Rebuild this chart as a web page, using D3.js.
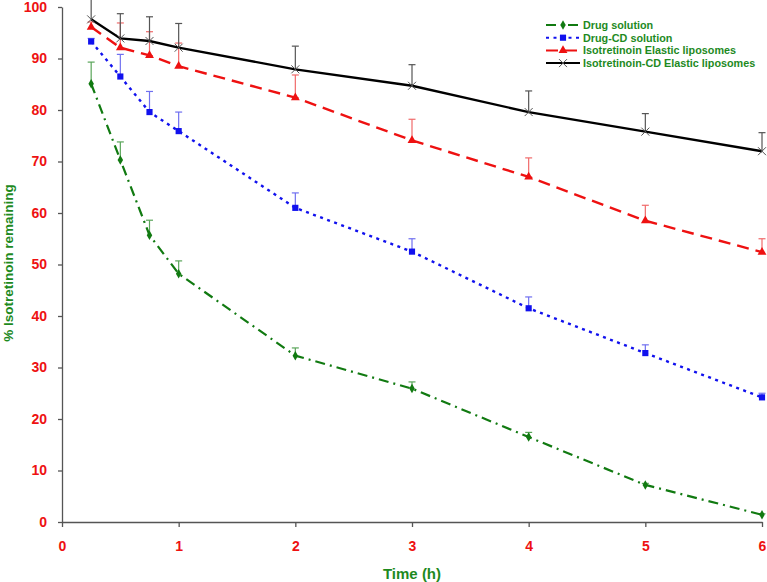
<!DOCTYPE html>
<html>
<head>
<meta charset="utf-8">
<script src="https://cdn.jsdelivr.net/npm/d3@7"></script>
<style>
  body { margin: 0; background: #fff; }
  text { font-family: "Liberation Sans", Arial, sans-serif; font-weight: bold; }
</style>
</head>
<body>
<div id="chart"></div>
<script>
// data
var times = [0.25, 0.5, 0.75, 1, 2, 3, 4, 5, 6];

var drugSolution    = [85.1, 70.3, 55.7, 48.2, 32.3, 25.9, 16.5, 7.2, 1.4];
var drugSolutionErr = [4.2, 3.5, 2.9, 2.5, 1.5, 1.3, 0.9, 0.3, 0.2];

var drugCD    = [93.3, 86.5, 79.6, 75.9, 61.0, 52.5, 41.5, 32.8, 24.2];
var drugCDErr = [0.6, 4.3, 4.0, 3.7, 2.9, 2.5, 2.2, 1.6, 0.8];

var elastic    = [96.1, 92.1, 90.6, 88.5, 82.4, 74.1, 67.0, 58.5, 52.4];
var elasticErr = [1.0, 4.8, 4.6, 4.5, 4.4, 4.1, 3.7, 3.0, 2.6];

var cdElastic    = [97.6, 93.9, 93.4, 92.1, 87.9, 84.7, 79.6, 75.8, 72.0];
var cdElasticErr = [4.0, 4.8, 4.7, 4.7, 4.5, 4.1, 4.1, 3.5, 3.6];

var seriesNames = ["Drug solution", "Drug-CD solution", "Isotretinoin Elastic liposomes", "Isotretinoin-CD Elastic liposomes"];
var xTicks = [0, 1, 2, 3, 4, 5, 6];
var yTicks = [0, 10, 20, 30, 40, 50, 60, 70, 80, 90, 100];

var svgWidth = 767;
var svgHeight = 582;

var svg = d3.select("#chart")
  .append("svg")
  .attr("width", svgWidth)
  .attr("height", svgHeight);

var xScale = d3.scaleLinear().domain([0, 6]).range([62, 762]);
var yScale = d3.scaleLinear().domain([0, 100]).range([522, 7]);

// axes
var yAxis = svg.append("g")
  .attr("transform", "translate(62,0)")
  .call(d3.axisLeft(yScale).tickValues(yTicks).tickFormat(d3.format("d")).tickSize(4).tickSizeOuter(0).tickPadding(11));

var xAxis = svg.append("g")
  .attr("transform", "translate(0,522)")
  .call(d3.axisBottom(xScale).tickValues(xTicks).tickFormat(d3.format("d")).tickSize(5).tickSizeOuter(0).tickPadding(14));

svg.selectAll(".domain, .tick line").attr("stroke", "#555").attr("stroke-width", 1.3);
svg.selectAll(".tick text")
  .attr("fill", "#ee1111")
  .style("font-size", "14px")
  .style("font-family", "Liberation Sans, Arial, sans-serif")
  .style("font-weight", "bold");

// axis titles
svg.append("text")
  .attr("x", 412)
  .attr("y", 579)
  .attr("text-anchor", "middle")
  .attr("fill", "#1e8a1e")
  .style("font-size", "15px")
  .text("Time (h)");

svg.append("text")
  .attr("transform", "translate(13,263) rotate(-90)")
  .attr("text-anchor", "middle")
  .attr("fill", "#1e8a1e")
  .style("font-size", "13.5px")
  .text("% Isotretinoin remaining");

var series = [
  { name: seriesNames[0], values: drugSolution, err: drugSolutionErr, color: "#117a11", errColor: "#5aa55a", dash: "10,5,2,5", width: 2.2, marker: "diamond" },
  { name: seriesNames[1], values: drugCD, err: drugCDErr, color: "#1111ee", errColor: "#7070f0", dash: "3,4.5", width: 2.4, marker: "square" },
  { name: seriesNames[2], values: elastic, err: elasticErr, color: "#ee1111", errColor: "#f06a6a", dash: "12,7", width: 2.4, marker: "triangle" },
  { name: seriesNames[3], values: cdElastic, err: cdElasticErr, color: "#000000", errColor: "#555555", dash: null, width: 2.4, marker: "cross" }
];

var line = d3.line()
  .x(d => xScale(d.t))
  .y(d => yScale(d.v));

function markerPath(type) {
  if (type === "square") return d3.symbol().type(d3.symbolSquare).size(38)();
  if (type === "triangle") return d3.symbol().type(d3.symbolTriangle).size(34)();
  if (type === "diamond") return d3.symbol().type(d3.symbolDiamond).size(26)();
  return "M-4,-4L4,4M-4,4L4,-4";
}

series.forEach(function(s) {
  var pts = times.map((t, i) => ({ t: t, v: s.values[i], e: s.err[i] }));
  var g = svg.append("g");

  // upward error bars
  var eb = g.selectAll(".err")
    .data(pts)
    .enter()
    .append("g")
    .attr("stroke", s.errColor)
    .attr("stroke-width", 1.2);
  eb.append("line")
    .attr("x1", d => xScale(d.t)).attr("x2", d => xScale(d.t))
    .attr("y1", d => yScale(d.v)).attr("y2", d => yScale(d.v + d.e));
  eb.append("line")
    .attr("x1", d => xScale(d.t) - 3.5).attr("x2", d => xScale(d.t) + 3.5)
    .attr("y1", d => yScale(d.v + d.e)).attr("y2", d => yScale(d.v + d.e));

  g.append("path")
    .datum(pts)
    .attr("d", line)
    .attr("fill", "none")
    .attr("stroke", s.color)
    .attr("stroke-width", s.width)
    .attr("stroke-dasharray", s.dash);

  g.selectAll(".mk")
    .data(pts)
    .enter()
    .append("path")
    .attr("transform", d => `translate(${xScale(d.t)},${yScale(d.v)})`)
    .attr("d", markerPath(s.marker))
    .attr("fill", s.marker === "cross" ? "none" : s.color)
    .attr("stroke", s.marker === "cross" ? "#555" : "none")
    .attr("stroke-width", 1);
});

// legend
var legend = svg.append("g");
series.forEach(function(s, i) {
  var y = 25 + i * 12.7;
  legend.append("line")
    .attr("x1", 546).attr("x2", 580)
    .attr("y1", y).attr("y2", y)
    .attr("stroke", s.color)
    .attr("stroke-width", 2)
    .attr("stroke-dasharray", s.dash);
  legend.append("path")
    .attr("transform", `translate(563,${y})`)
    .attr("d", markerPath(s.marker))
    .attr("fill", s.marker === "cross" ? "none" : s.color)
    .attr("stroke", s.marker === "cross" ? "#555" : "none");
  legend.append("text")
    .attr("x", 583)
    .attr("y", y + 4)
    .attr("fill", "#1e8a1e")
    .style("font-size", "10.8px")
    .text(s.name);
});
</script>
</body>
</html>
